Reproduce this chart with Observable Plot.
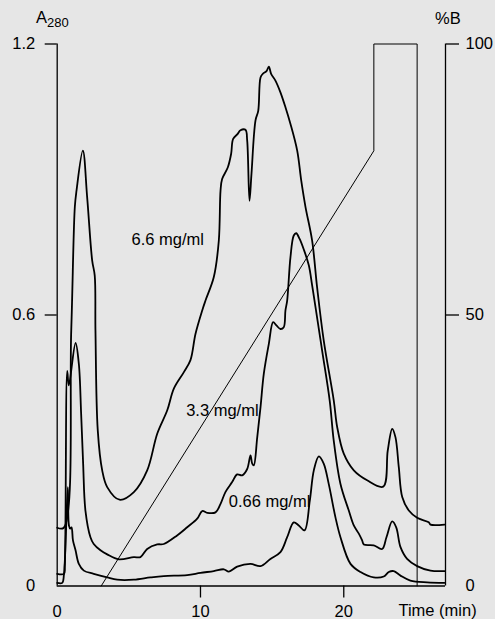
<!DOCTYPE html>
<html>
<head>
<meta charset="utf-8">
<script src="https://cdn.jsdelivr.net/npm/d3@7"></script>
<script src="https://cdn.jsdelivr.net/npm/@observablehq/plot@0.6"></script>
<style>
  html, body { margin: 0; padding: 0; background: #e6e6e6; }
</style>
</head>
<body>
<div id="chart"></div>
<script>
// Elution profiles (A280) at three loading concentrations, time in minutes
const time66 = [0, 0.46, 0.98, 1.23, 1.35, 1.79, 2.09, 2.44, 2.62, 2.67, 2.83, 3.14, 3.49, 4.35, 5.35, 6.28, 6.98, 7.68, 8.14, 8.83, 9.30, 9.65, 10.12, 10.35, 10.93, 11.28, 11.40, 11.51, 11.91, 12.14, 12.28, 12.60, 12.79, 13.14, 13.26, 13.42, 13.56, 13.84, 14.03, 14.19, 14.35, 14.61, 14.77, 14.93, 15.23, 15.58, 15.93, 16.28, 16.75, 17.03, 17.33, 17.79, 18.14, 18.60, 19.30, 19.54, 20.00, 20.70, 21.63, 22.75, 23.07, 23.38, 23.61, 23.84, 24.08, 24.54, 25.12, 25.93, 26.05, 27.03];
const abs66  = [0.129, 0.129, 0.566, 0.839, 0.876, 0.964, 0.861, 0.721, 0.687, 0.566, 0.345, 0.256, 0.219, 0.191, 0.208, 0.256, 0.337, 0.389, 0.437, 0.473, 0.500, 0.558, 0.610, 0.632, 0.684, 0.765, 0.876, 0.901, 0.927, 0.957, 0.990, 1.001, 1.009, 1.010, 0.986, 0.853, 0.913, 1.031, 1.052, 1.126, 1.134, 1.140, 1.150, 1.134, 1.119, 1.093, 1.060, 1.023, 0.964, 0.898, 0.839, 0.765, 0.661, 0.544, 0.411, 0.352, 0.293, 0.256, 0.234, 0.220, 0.300, 0.348, 0.329, 0.263, 0.197, 0.167, 0.151, 0.141, 0.136, 0.136];

const time33 = [0, 0.47, 0.53, 0.70, 0.81, 1.28, 1.51, 1.67, 1.81, 1.97, 2.32, 2.55, 3.02, 3.49, 4.30, 5.35, 5.81, 6.28, 6.98, 7.44, 8.37, 9.07, 9.77, 10.12, 10.47, 11.05, 11.40, 11.74, 12.21, 12.56, 12.91, 13.26, 13.49, 13.61, 13.72, 13.96, 14.19, 14.42, 14.77, 15.07, 15.30, 15.58, 15.81, 15.93, 16.05, 16.28, 16.51, 16.68, 16.91, 17.21, 17.56, 17.79, 18.03, 18.49, 19.02, 19.30, 19.77, 20.35, 20.70, 21.05, 21.28, 21.40, 22.09, 22.68, 22.98, 23.38, 23.66, 23.96, 24.42, 25.12, 26.05, 27.03];
const abs33  = [0.027, 0.027, 0.045, 0.476, 0.444, 0.538, 0.492, 0.382, 0.271, 0.167, 0.108, 0.093, 0.079, 0.070, 0.059, 0.064, 0.064, 0.082, 0.092, 0.093, 0.112, 0.130, 0.149, 0.166, 0.162, 0.163, 0.182, 0.208, 0.230, 0.247, 0.245, 0.259, 0.289, 0.271, 0.267, 0.329, 0.396, 0.470, 0.536, 0.584, 0.577, 0.569, 0.573, 0.610, 0.632, 0.728, 0.776, 0.781, 0.769, 0.745, 0.710, 0.666, 0.617, 0.521, 0.410, 0.322, 0.226, 0.167, 0.134, 0.116, 0.101, 0.092, 0.090, 0.082, 0.108, 0.143, 0.130, 0.086, 0.060, 0.044, 0.034, 0.033];

const time066 = [0, 0.35, 0.47, 0.74, 0.82, 0.91, 1.00, 1.10, 1.28, 1.51, 1.86, 2.55, 3.49, 4.19, 5.35, 6.51, 7.44, 9.07, 10.00, 10.93, 11.63, 11.98, 12.56, 13.49, 14.19, 14.88, 15.58, 16.05, 16.51, 16.86, 17.26, 17.63, 17.91, 18.26, 18.60, 18.95, 19.42, 19.77, 20.47, 21.17, 22.09, 22.79, 23.14, 23.49, 23.96, 24.65, 25.82, 27.03];
const abs066  = [0.007, 0.007, 0.025, 0.219, 0.134, 0.127, 0.130, 0.101, 0.079, 0.049, 0.034, 0.027, 0.019, 0.014, 0.014, 0.019, 0.022, 0.024, 0.029, 0.033, 0.037, 0.032, 0.043, 0.049, 0.044, 0.060, 0.075, 0.108, 0.141, 0.134, 0.123, 0.189, 0.256, 0.287, 0.271, 0.226, 0.152, 0.108, 0.049, 0.031, 0.019, 0.021, 0.031, 0.033, 0.023, 0.012, 0.008, 0.007];

// Gradient programme (%B, right axis)
const gradTime = [3.07, 22.1, 22.1, 25.12, 25.12];
const gradB    = [0, 80.3, 100, 100, 0];

// Series labels and where they sit (data units)
const seriesLabels = ["6.6 mg/ml", "3.3 mg/ml", "0.66 mg/ml"];
const labelTime = [5.19, 9.0, 11.97];
const labelAbs  = [0.766, 0.389, 0.186];

// Axis ticks
const absTicks = [0.6, 1.2];
const pctTicks = [50, 100];
const timeTicks = [10, 20];

const xMax = 27.1;
const yMax = 1.2;      // A280 at top of axis; also 100 %B
const pctToAbs = p => p / 100 * yMax;

const toRows = (ts, as) => ts.map((t, i) => ({t, a: as[i]}));
const rows = [toRows(time66, abs66), toRows(time33, abs33), toRows(time066, abs066)];
const gradRows = gradTime.map((t, i) => ({t, a: pctToAbs(gradB[i])}));
const labelRows = seriesLabels.map((s, i) => ({s, t: labelTime[i], a: labelAbs[i]}));

const font = "'Liberation Sans', Arial, sans-serif";

const chart = Plot.plot({
  width: 495,
  height: 619,
  marginLeft: 56.7,
  marginRight: 50,
  marginTop: 43.5,
  marginBottom: 33.5,
  x: {domain: [0, xMax]},
  y: {domain: [0, yMax]},
  style: {background: "#e6e6e6", fontFamily: font, fontSize: "16.5px", color: "#000", overflow: "visible"},
  marks: [
    // axis frame
    Plot.ruleX([0], {y1: 0, y2: yMax, stroke: "#000", strokeWidth: 1.3}),
    Plot.ruleX([xMax], {y1: 0, y2: yMax, stroke: "#000", strokeWidth: 1.3}),
    Plot.ruleY([0], {x1: 0, x2: xMax, stroke: "#000", strokeWidth: 1.3}),
    // left axis (A280)
    Plot.axisY({ticks: absTicks, tickSize: 12, tickPadding: 10, tickFormat: d => String(d), label: null, stroke: "#000", strokeWidth: 1.3}),
    Plot.axisY({ticks: [0], tickSize: 0, tickPadding: 22, tickFormat: () => "0", label: null}),
    // right axis (%B)
    Plot.axisY({anchor: "right", ticks: pctTicks.map(pctToAbs), tickSize: 13, tickPadding: 7,
      tickFormat: d => String(Math.round(d / yMax * 100)), label: null, stroke: "#000", strokeWidth: 1.3}),
    Plot.axisY({anchor: "right", ticks: [0], tickSize: 0, tickPadding: 20, tickFormat: () => "0", label: null}),
    // time axis
    Plot.axisX({ticks: timeTicks, tickSize: 12, tickPadding: 7, label: null, stroke: "#000", strokeWidth: 1.3}),
    Plot.axisX({ticks: [0], tickSize: 0, tickPadding: 19, tickFormat: () => "0", label: null}),
    // gradient
    Plot.line(gradRows, {x: "t", y: "a", stroke: "#000", strokeWidth: 1}),
    // chromatograms
    ...rows.map(r => Plot.line(r, {x: "t", y: "a", stroke: "#000", strokeWidth: 1.8, curve: "catmull-rom"})),
    // series labels
    Plot.text(labelRows, {x: "t", y: "a", text: "s", textAnchor: "start", fill: "#000", fontSize: 16.5})
  ]
});

const svg = d3.select(chart);
const ttl = svg.append("g").attr("font-family", font).attr("fill", "#000");
const a280 = ttl.append("text").attr("x", 36).attr("y", 23.3).attr("font-size", 16.5).attr("text-anchor", "start");
a280.append("tspan").text("A");
a280.append("tspan").attr("font-size", 13).attr("dy", 3.4).text("280");
ttl.append("text").attr("x", 435).attr("y", 24).attr("font-size", 16.5).attr("text-anchor", "start").text("%B");
ttl.append("text").attr("x", 476.7).attr("y", 616).attr("font-size", 16.5).attr("text-anchor", "end").text("Time (min)");

document.getElementById("chart").appendChild(chart);
</script>
</body>
</html>
